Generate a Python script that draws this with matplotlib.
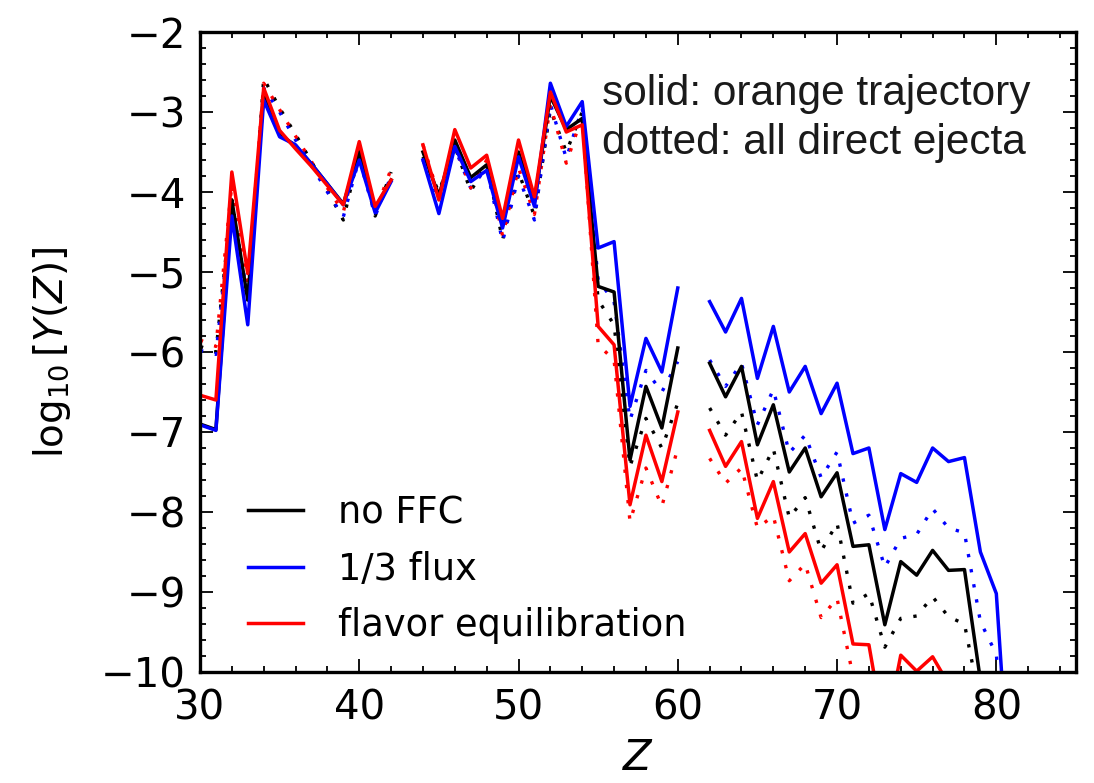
import numpy as np
import matplotlib
matplotlib.use("Agg")
from matplotlib import pyplot as plt
from matplotlib.ticker import MultipleLocator

nan = np.nan
Z = np.arange(30, 82)

# solid: orange trajectory
no_ffc = [-6.90, -6.97, -4.10, -5.35, -2.75, -3.28, -3.42, -3.65, -3.90, -4.15, -3.50, -4.20, -3.85, nan,
          -3.50, -4.05, -3.35, -3.82, -3.66, -4.42, -3.50, -4.12, -2.80, -3.22, -3.08, -5.18, -5.25,
          -7.35, -6.43, -6.95, -5.95, nan,
          -6.14, -6.56, -6.18, -7.16, -6.66, -7.50, -7.20, -7.81, -7.51, -8.43, -8.41, -9.41, -8.62,
          -8.79, -8.48, -8.73, -8.72, -10.10, -11.0, -11.5]
third_flux = [-6.91, -6.98, -4.30, -5.66, -2.85, -3.31, -3.41, -3.65, -3.90, -4.16, -3.60, -4.26, -3.87, nan,
              -3.60, -4.27, -3.43, -3.87, -3.73, -4.45, -3.56, -4.18, -2.64, -3.18, -2.87, -4.70, -4.62,
              -6.68, -5.83, -6.25, -5.20, nan,
              -5.37, -5.75, -5.33, -6.33, -5.68, -6.50, -6.18, -6.77, -6.39, -7.27, -7.20, -8.22, -7.52,
              -7.63, -7.20, -7.37, -7.32, -8.50, -9.02, -12.0]
flavor_eq = [-6.54, -6.60, -3.75, -5.02, -2.70, -3.23, -3.46, -3.68, -3.92, -4.16, -3.37, -4.18, -3.85, nan,
             -3.41, -4.10, -3.22, -3.70, -3.54, -4.33, -3.35, -4.06, -2.75, -3.25, -3.16, -5.68, -5.91,
             -7.91, -7.04, -7.62, -6.75, nan,
             -6.98, -7.43, -7.12, -8.08, -7.62, -8.50, -8.27, -8.89, -8.66, -9.65, -9.66, -10.80, -9.79,
             -9.99, -9.81, -10.15, -10.6, -11.0, -11.5, -12.0]

# dotted: all direct ejecta
no_ffc_all = [-5.93, -6.00, -4.10, -5.39, -2.58, -2.95, -3.28, -3.62, -3.98, -4.35, -3.50, -4.30, -3.75, nan,
              -3.56, -4.00, -3.43, -3.99, -3.65, -4.60, -3.75, -4.30, -2.97, -3.50, -3.00, -5.35, -5.66,
              -7.43, -6.83, -7.20, -6.64, nan,
              -6.70, -7.04, -6.75, -7.61, -7.21, -8.07, -7.82, -8.49, -8.14, -9.14, -9.02, -9.69, -9.33,
              -9.30, -9.06, -9.31, -9.40, -10.4, -11.0, -12.0]
third_flux_all = [-5.98, -6.03, -4.20, -5.30, -2.70, -3.00, -3.35, -3.67, -4.00, -4.31, -3.58, -4.30, -3.80, nan,
                  -3.60, -4.10, -3.45, -3.95, -3.70, -4.62, -3.80, -4.35, -2.90, -3.58, -2.95, -5.10, -5.37,
                  -6.85, -6.23, -6.50, -6.12, nan,
                  -6.10, -6.43, -6.14, -6.91, -6.47, -7.26, -7.04, -7.57, -7.25, -8.14, -8.04, -8.69, -8.33,
                  -8.28, -7.96, -8.20, -8.26, -9.37, -9.78, -12.0]
flavor_eq_all = [-5.85, -5.93, -3.90, -5.20, -2.64, -2.97, -3.30, -3.62, -3.95, -4.25, -3.45, -4.25, -3.71, nan,
                 -3.41, -4.05, -3.40, -3.95, -3.60, -4.55, -3.70, -4.28, -2.91, -3.64, -3.05, -5.91, -6.10,
                 -8.12, -7.45, -7.93, -7.20, nan,
                 -7.33, -7.64, -7.45, -8.20, -8.05, -8.86, -8.65, -9.32, -9.08, -10.05, -10.8, -11.5, -12.0,
                 -12.0, -12.0, -12.0, -12.0, -12.0, -12.0, -12.0]

labels = ["no FFC", "1/3 flux", "flavor equilibration"]
colors = ["k", "b", "r"]

fig = plt.figure(figsize=(10.94, 7.83), dpi=100)
ax = fig.add_axes([0.1828, 0.1418, 0.8007, 0.8173])

dots = (0, (1, 3.6))
for ys, c in zip([no_ffc_all, third_flux_all, flavor_eq_all], colors):
    ax.plot(Z, ys, color=c, lw=2.4, linestyle=dots)
for ys, c, lab in zip([no_ffc, third_flux, flavor_eq], colors, labels):
    ax.plot(Z, ys, color=c, lw=2.5, label=lab)

ax.set_xlim(30, 85)
ax.set_ylim(-10, -2)
ax.xaxis.set_major_locator(MultipleLocator(10))
ax.xaxis.set_minor_locator(MultipleLocator(2))
ax.yaxis.set_major_locator(MultipleLocator(1))
ax.yaxis.set_minor_locator(MultipleLocator(0.2))
ax.tick_params(which="both", direction="in", top=True, right=True, width=1.3)
ax.tick_params(which="major", length=9.5, labelsize=29)
ax.tick_params(axis="x", which="major", pad=12)
ax.tick_params(axis="y", which="major", pad=10)
ax.tick_params(which="minor", length=4.5)
for s in ax.spines.values():
    s.set_linewidth(2.4)

ax.set_xlabel(r"$Z$", fontsize=30, labelpad=6)
ax.set_ylabel(r"$\log_{10}[Y(Z)]$", fontsize=28, labelpad=20)

ax.legend(loc="lower left", bbox_to_anchor=(0.025, 0.004), frameon=False, fontsize=26.5,
          handlelength=1.5, handletextpad=0.95, labelspacing=0.52, borderpad=0.2)

ax.text(0.459, 0.935, "solid: orange trajectory\ndotted: all direct ejecta",
        transform=ax.transAxes, ha="left", va="top", fontsize=30.5,
        family="Liberation Sans", color="#1a1a1a", linespacing=1.3)

fig.savefig("out.png", dpi=100)
